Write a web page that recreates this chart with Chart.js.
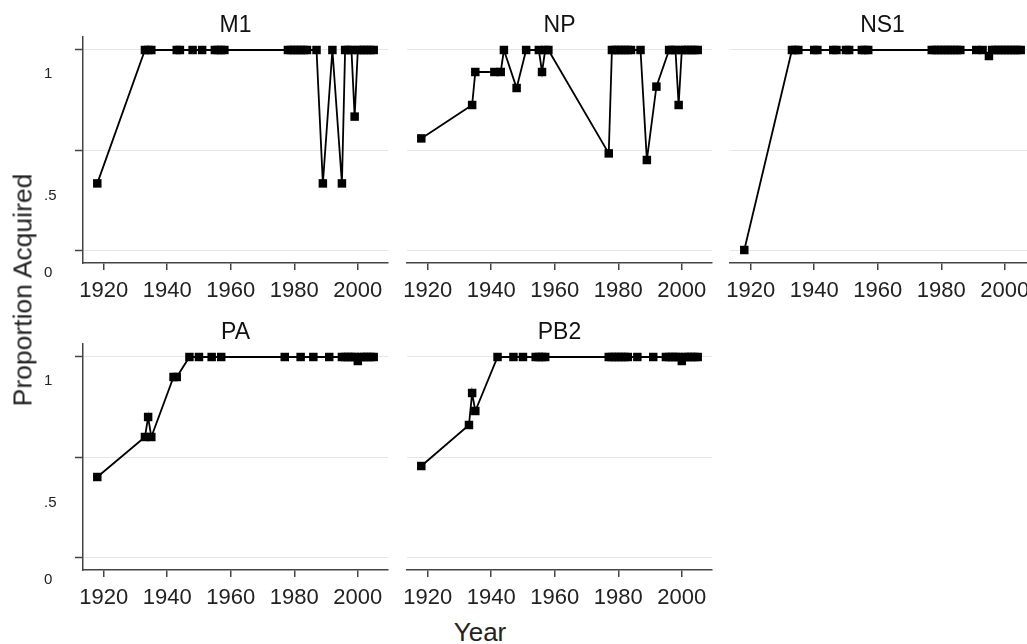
<!DOCTYPE html>
<html><head><meta charset="utf-8">
<script src="https://cdn.jsdelivr.net/npm/chart.js@4.4.0/dist/chart.umd.min.js"></script>
<style>
html,body{margin:0;padding:0;width:1027px;height:644px;overflow:hidden;background:#fff;font-family:"Liberation Sans",Arial,sans-serif;}
.panel{position:absolute;}
#ylab{position:absolute;left:23px;top:290px;transform:translate(-50%,-50%) rotate(-90deg);font-size:26.5px;color:#222;white-space:nowrap;}
#xlab{position:absolute;left:480px;top:632px;transform:translate(-50%,-50%);font-size:26px;color:#222;white-space:nowrap;}
</style></head><body>
<div class="panel" style="left:0px;top:0px"><canvas id="c0" width="471" height="308"></canvas></div>
<div class="panel" style="left:324px;top:0px"><canvas id="c1" width="471" height="308"></canvas></div>
<div class="panel" style="left:647px;top:0px"><canvas id="c2" width="471" height="308"></canvas></div>
<div class="panel" style="left:0px;top:307px"><canvas id="c3" width="471" height="308"></canvas></div>
<div class="panel" style="left:324px;top:307px"><canvas id="c4" width="471" height="308"></canvas></div>
<div id="ylab">Proportion Acquired</div>
<div id="xlab">Year</div>
<script>
const xTickYears = [1920, 1940, 1960, 1980, 2000];
const yTickValues = [0, 0.5, 1];
const yTickLabels = ['0', '.5', '1'];
const panelNames = ['M1', 'NP', 'NS1', 'PA', 'PB2'];

const m1Years = [1918,1933,1934,1935,1943,1944,1948,1951,1955,1956,1957,1958,1978,1979,1980,1981,1982,1983,1984,1987,1989,1992,1995,1996,1997,1998,1999,2000,2001,2002,2003,2004,2005];
const m1Values = [0.333,1,1,1,1,1,1,1,1,1,1,1,1,1,1,1,1,1,1,1,0.333,1,0.333,1,1,1,0.667,1,1,1,1,1,1];

const npYears = [1918,1934,1935,1941,1943,1944,1948,1951,1955,1956,1957,1958,1977,1978,1979,1980,1981,1982,1983,1984,1987,1989,1992,1996,1997,1998,1999,2000,2001,2002,2003,2004,2005];
const npValues = [0.558,0.725,0.89,0.89,0.89,1,0.81,1,1,0.89,1,1,0.483,1,1,1,1,1,1,1,1,0.45,0.817,1,1,1,0.725,1,1,1,1,1,1];

const ns1Years = [1918,1933,1934,1935,1940,1941,1946,1947,1950,1951,1955,1956,1957,1977,1978,1979,1980,1981,1982,1983,1984,1985,1986,1991,1993,1995,1996,1997,1998,1999,2000,2001,2002,2003,2004,2005];
const ns1Values = [0,1,1,1,1,1,1,1,1,1,1,1,1,1,1,1,1,1,1,1,1,1,1,1,1,0.97,1,1,1,1,1,1,1,1,1,1];

const paYears = [1918,1933,1934,1935,1942,1943,1947,1950,1954,1957,1977,1982,1986,1991,1995,1996,1997,1998,1999,2000,2001,2002,2003,2004,2005];
const paValues = [0.4,0.6,0.7,0.6,0.9,0.9,1,1,1,1,1,1,1,1,1,1,1,1,1,0.98,1,1,1,1,1];

const pb2Years = [1918,1933,1934,1935,1942,1947,1950,1954,1955,1956,1957,1977,1978,1979,1980,1981,1982,1983,1986,1991,1995,1996,1997,1998,1999,2000,2001,2002,2003,2004,2005];
const pb2Values = [0.455,0.66,0.82,0.73,1,1,1,1,1,1,1,1,1,1,1,1,1,1,1,1,1,1,1,1,1,0.98,1,1,1,1,1];

const FONT = '"Liberation Sans", Arial, sans-serif';

const yLabelPlugin = {
  id: 'yLabels',
  afterDraw(chart, args, opts) {
    if (!opts.show) return;
    const s = chart.scales.y;
    const ctx = chart.ctx;
    const offsets = {0: 23, 0.5: 45.5, 1: 24};
    ctx.save();
    ctx.font = '15px ' + FONT;
    ctx.fillStyle = '#222';
    ctx.textAlign = 'left';
    ctx.textBaseline = 'middle';
    yTickValues.forEach((v, i) => {
      ctx.fillText(yTickLabels[i], 44, s.getPixelForValue(v) + offsets[v]);
    });
    ctx.restore();
  }
};

function makeChart(id, name, years, values, firstCol) {
  new Chart(document.getElementById(id), {
    type: 'scatter',
    data: {
      datasets: [{
        data: years.map((y, i) => ({x: y, y: values[i]})),
        showLine: true,
        borderColor: '#000',
        backgroundColor: '#000',
        borderWidth: 1.8,
        pointStyle: 'rect',
        pointRadius: 6,
        pointBorderWidth: 0,
        clip: false
      }]
    },
    plugins: [yLabelPlugin],
    options: {
      responsive: false,
      animation: false,
      events: [],
      layout: {padding: {left: 83, right: 83, top: 0, bottom: 0}},
      plugins: {
        legend: {display: false},
        tooltip: {enabled: false},
        title: {
          display: true, text: name, color: '#111',
          font: {size: 23, family: FONT, weight: 'normal', lineHeight: 1},
          padding: {top: 14, bottom: 0}
        },
        yLabels: {show: firstCol}
      },
      scales: {
        x: {
          type: 'linear', min: 1913.5, max: 2009.5,
          afterBuildTicks: s => { s.ticks = xTickYears.map(v => ({value: v})); },
          afterFit: s => { s.height = 45; },
          ticks: {color: '#222', font: {size: 22, family: FONT}, padding: 8, maxRotation: 0, callback: v => String(v)},
          grid: {drawOnChartArea: false, drawTicks: true, tickLength: 7, tickColor: '#444', lineWidth: 1.5},
          border: {display: true, color: '#444', width: 1.5}
        },
        y: {
          type: 'linear', min: -0.065, max: 1.065,
          afterBuildTicks: s => { s.ticks = yTickValues.map(v => ({value: v})); },
          afterFit: s => { s.width = 0; },
          ticks: {display: false},
          grid: {color: '#e6e6e6', lineWidth: 1, drawTicks: firstCol, tickLength: 8, tickColor: '#444', tickWidth: 1.5},
          border: {display: firstCol, color: '#444', width: 1.5}
        }
      }
    }
  });
}

makeChart('c0', panelNames[0], m1Years, m1Values, true);
makeChart('c1', panelNames[1], npYears, npValues, false);
makeChart('c2', panelNames[2], ns1Years, ns1Values, false);
makeChart('c3', panelNames[3], paYears, paValues, true);
makeChart('c4', panelNames[4], pb2Years, pb2Values, false);
</script>
</body></html>
